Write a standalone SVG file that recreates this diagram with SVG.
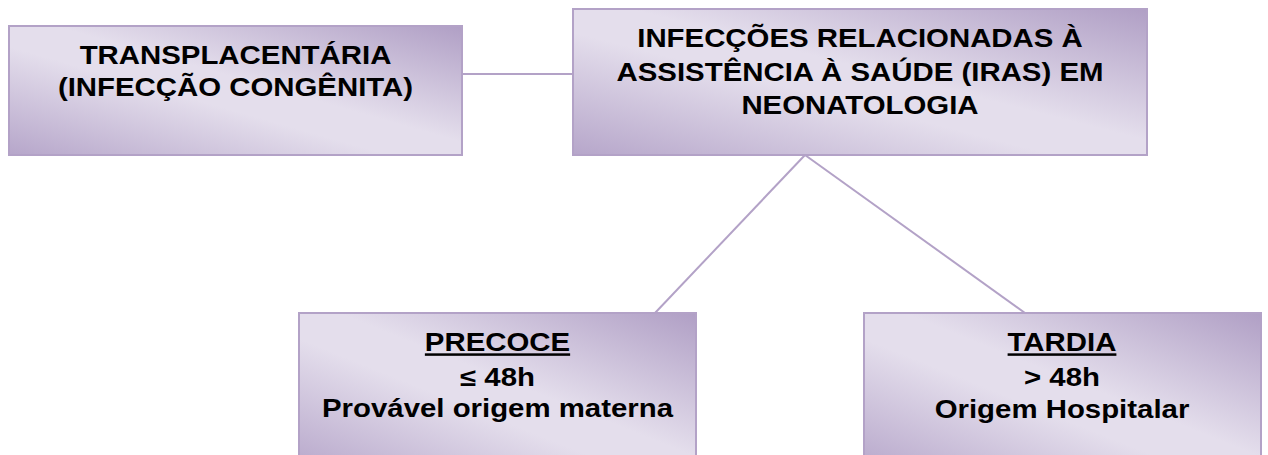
<svg xmlns="http://www.w3.org/2000/svg" width="1268" height="455" viewBox="0 0 1268 455">
  <defs>
    <linearGradient id="fillGrad" x1="1" y1="0" x2="0" y2="1">
      <stop offset="0" stop-color="#b09fc5"/>
      <stop offset="0.45" stop-color="#e4deec"/>
      <stop offset="0.58" stop-color="#e4deec"/>
      <stop offset="1" stop-color="#b6a6ca"/>
    </linearGradient>
    <style>
      .box { fill: url(#fillGrad); stroke: #b3a2c7; stroke-width: 2; }
      .conn { stroke: #b3a2c7; stroke-width: 2; fill: none; }
      .lbl { font-family: "Liberation Sans", Arial, sans-serif; font-weight: bold; font-size: 25px; fill: #000; text-anchor: middle; }
      .ul { text-decoration: underline; }
    </style>
  </defs>
  <rect width="1268" height="455" fill="#ffffff"/>

  <g id="connectors">
    <line class="conn" x1="462" y1="74" x2="573" y2="74"/>
    <line class="conn" x1="805" y1="155" x2="655" y2="313"/>
    <line class="conn" x1="805" y1="155" x2="1025" y2="313"/>
  </g>

  <g id="node-transplacentaria">
    <rect class="box" x="9" y="26" width="453" height="129"/>
    <g transform="translate(235.5 0) scale(1.176 1)">
      <text class="lbl" x="0" y="64">TRANSPLACENTÁRIA</text>
      <text class="lbl" x="0" y="96.5">(INFECÇÃO CONGÊNITA)</text>
    </g>
  </g>

  <g id="node-iras">
    <rect class="box" x="573" y="9" width="574" height="146"/>
    <g transform="translate(860 0) scale(1.176 1)">
      <text class="lbl" x="0" y="47">INFECÇÕES RELACIONADAS À</text>
      <text class="lbl" x="0" y="81">ASSISTÊNCIA À SAÚDE (IRAS) EM</text>
      <text class="lbl" x="0" y="114.5">NEONATOLOGIA</text>
    </g>
  </g>

  <g id="node-precoce">
    <rect class="box" x="299" y="313" width="397" height="160"/>
    <g transform="translate(497.5 0) scale(1.176 1)">
      <text class="lbl ul" x="0" y="351.5">PRECOCE</text>
      <text class="lbl" x="0" y="386">≤ 48h</text>
      <text class="lbl" x="0" y="417.5">Provável origem materna</text>
    </g>
  </g>

  <g id="node-tardia">
    <rect class="box" x="864" y="313" width="397" height="160"/>
    <g transform="translate(1062 0) scale(1.176 1)">
      <text class="lbl ul" x="0" y="351.5">TARDIA</text>
      <text class="lbl" x="0" y="386">&gt; 48h</text>
      <text class="lbl" x="0" y="418.5">Origem Hospitalar</text>
    </g>
  </g>
</svg>
